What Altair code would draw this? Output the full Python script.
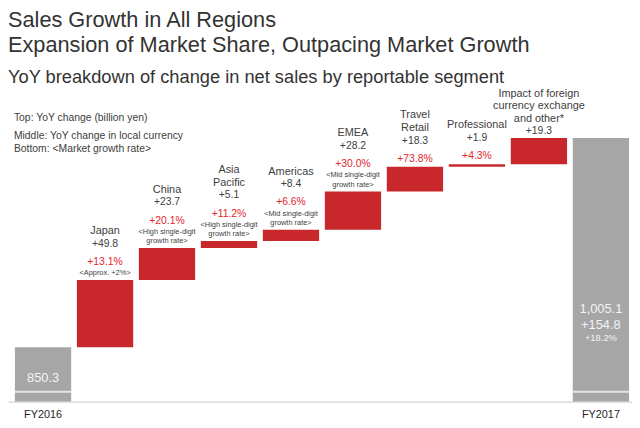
import altair as alt
import pandas as pd

# ---------------- data ----------------
segments = ["FY2016", "Japan", "China", "Asia Pacific", "Americas", "EMEA",
            "Travel Retail", "Professional", "FX and other", "FY2017"]
segment_names = [[], ["Japan"], ["China"], ["Asia", "Pacific"], ["Americas"], ["EMEA"],
                 ["Travel", "Retail"], ["Professional"],
                 ["Impact of foreign", "currency exchange", "and other*"], []]
fy2016_sales = 850.3
fy2017_sales = 1005.1
yoy_change = [49.8, 23.7, 5.1, 8.4, 28.2, 18.3, 1.9, 19.3]          # billion yen
local_currency_growth = ["+13.1%", "+20.1%", "+11.2%", "+6.6%", "+30.0%", "+73.8%", "+4.3%", ""]
market_growth = [["<Approx. +2%>"],
                 ["<High single-digit", "growth rate>"],
                 ["<High single-digit", "growth rate>"],
                 ["<Mid single-digit", "growth rate>"],
                 ["<Mid single-digit", "growth rate>"],
                 [], [], []]
title_lines = ["Sales Growth in All Regions",
               "Expansion of Market Share, Outpacing Market Growth"]
subtitle = "YoY breakdown of change in net sales by reportable segment"
legend_lines = ["Top: YoY change (billion yen)",
                "Middle: YoY change in local currency",
                "Bottom: <Market growth rate>"]

# ---------------- layout / style ----------------
FONT = "Liberation Sans"
RED_BAR = "#C8282B"
GRAY_BAR = "#A6A6A6"
RED_TEXT = "#E2262C"
TEXT = "#404040"
HEADER = "#333333"
W, H = 632, 396
Y_MIN, Y_MAX = 810.1, 1099.3
PXU = H / (Y_MAX - Y_MIN)          # pixels per billion yen


def up(v, px):
    """value that lies px pixels above v on the y scale"""
    return v + px / PXU


# bars table
rows = [dict(seg="FY2016", start=Y_MIN, end=fy2016_sales, type="total")]
level = fy2016_sales
for seg, d in zip(segments[1:-1], yoy_change):
    rows.append(dict(seg=seg, start=level, end=level + d, type="delta"))
    level += d
rows.append(dict(seg="FY2017", start=Y_MIN, end=fy2017_sales, type="total"))
bars = pd.DataFrame(rows)
bars["brk"] = up(Y_MIN, 10)

# label table
lab = []
for i, seg in enumerate(segments[1:-1]):
    top = bars.loc[i + 1, "end"]
    notes = market_growth[i]
    for j, line in enumerate(reversed(notes)):
        lab.append(dict(seg=seg, ly=up(top, 7 + 9.3 * j), text=line, kind="note"))
    pct = local_currency_growth[i]
    if pct:
        pct_off = (7 + 9.3 * (len(notes) - 1) + 11.3) if notes else 8
        lab.append(dict(seg=seg, ly=up(top, pct_off), text=pct, kind="pct"))
        val_off = pct_off + 18.5
    else:
        val_off = 7
    lab.append(dict(seg=seg, ly=up(top, val_off), text=f"+{yoy_change[i]:.1f}", kind="value"))
    for j, line in enumerate(reversed(segment_names[i + 1])):
        lab.append(dict(seg=seg, ly=up(top, val_off + 12.7 * (j + 1)), text=line, kind="name"))

total_change = fy2017_sales - fy2016_sales
lab.append(dict(seg="FY2016", ly=up(Y_MIN, 23.5), text=f"{fy2016_sales:,.1f}", kind="inner"))
lab.append(dict(seg="FY2017", ly=up(Y_MIN, 93.5), text=f"{fy2017_sales:,.1f}", kind="inner"))
lab.append(dict(seg="FY2017", ly=up(Y_MIN, 77.5), text=f"+{total_change:.1f}", kind="inner"))
lab.append(dict(seg="FY2017", ly=up(Y_MIN, 64), text=f"+{total_change / fy2016_sales * 100:.1f}%",
                kind="inner_small"))
for seg in ["FY2016", "FY2017"]:
    lab.append(dict(seg=seg, ly=Y_MIN, text=seg, kind="fy"))
labels = pd.DataFrame(lab)

# ---------------- encodings ----------------
X = alt.X("seg:N", sort=segments,
          scale=alt.Scale(paddingInner=0.092, paddingOuter=0.0795, align=0.7),
          axis=alt.Axis(labels=False, ticks=False, domain=True, domainColor="#C8C8C8",
                        grid=False, title=None))
YS = alt.Scale(domain=[Y_MIN, Y_MAX], nice=False, zero=False)

bar_layer = alt.Chart(bars).mark_bar().encode(
    x=X,
    y=alt.Y("end:Q", scale=YS, axis=None),
    y2="start:Q",
    color=alt.Color("type:N", scale=alt.Scale(domain=["total", "delta"], range=[GRAY_BAR, RED_BAR]),
                    legend=None),
)

break_layer = alt.Chart(bars).transform_filter(alt.datum.type == "total").mark_tick(
    color="white", thickness=2, size=57
).encode(x=X, y=alt.Y("brk:Q", scale=YS, axis=None))


def text_layer(kind, size, color, dy=0):
    return alt.Chart(labels).transform_filter(alt.datum.kind == kind).mark_text(
        font=FONT, fontSize=size, color=color, baseline="middle", align="center", dy=dy
    ).encode(x=X, y=alt.Y("ly:Q", scale=YS, axis=None), text="text:N")


def fixed_text(txt, x, y, size, color, baseline="alphabetic"):
    return alt.Chart(pd.DataFrame({"t": [txt]})).mark_text(
        font=FONT, fontSize=size, color=color, align="left", baseline=baseline
    ).encode(x=alt.value(x), y=alt.value(y), text="t:N")


layers = [bar_layer, break_layer,
          text_layer("note", 7.5, TEXT),
          text_layer("pct", 10.5, RED_TEXT),
          text_layer("value", 10.5, TEXT),
          text_layer("name", 11, TEXT),
          text_layer("inner", 13, "#F4F4F4"),
          text_layer("inner_small", 9.5, "#F4F4F4"),
          text_layer("fy", 11, "#262626", dy=14),
          fixed_text(title_lines[0], 0, 17, 22, HEADER),
          fixed_text(title_lines[1], 0, 42, 22, HEADER),
          fixed_text(subtitle, 0, 73.7, 18.5, HEADER)]
for k, (line, yy) in enumerate(zip(legend_lines, [109, 127, 140.5])):
    layers.append(fixed_text(line, 6, yy, 10.5, TEXT, baseline="middle"))

chart = alt.layer(*layers).properties(
    width=W, height=H,
    padding={"left": 0, "top": 0, "right": 0, "bottom": 16},
    autosize=alt.AutoSizeParams(type="none"),
).configure_view(stroke=None)

chart.save("out.html", embed_options={"renderer": "svg", "actions": False})
